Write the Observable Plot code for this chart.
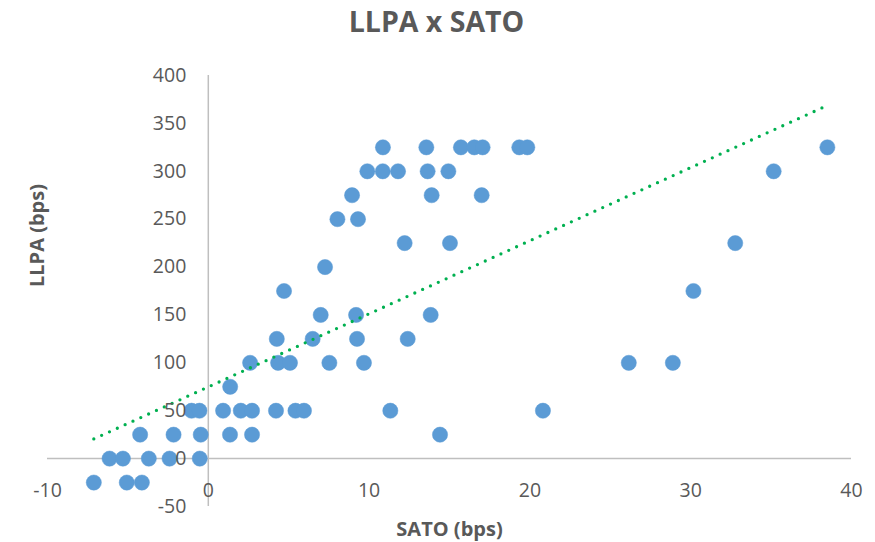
<!DOCTYPE html>
<html>
<head>
<meta charset="utf-8">
<script src="https://cdn.jsdelivr.net/npm/d3@7"></script>
<script src="https://cdn.jsdelivr.net/npm/@observablehq/plot@0.6"></script>
<style>
  html, body { margin: 0; padding: 0; background: #fff; }
  #chart { width: 875px; height: 542px; }
</style>
</head>
<body>
<div id="chart"></div>
<script>
const title = "LLPA x SATO";
const xLabel = "SATO (bps)";
const yLabel = "LLPA (bps)";
const xTicks = [-10, 0, 10, 20, 30, 40];
const yTicks = [-50, 0, 50, 100, 150, 200, 250, 300, 350, 400];

const sato = [
  -7.12, -5.07, -4.13,
  -6.14, -5.31, -3.70, -2.41, -0.53,
  -4.24, -2.16, -0.47, 1.35, 2.72, 14.41,
  -1.04, -0.55, 0.92, 2.02, 2.72, 4.21, 5.42, 5.95, 11.32, 20.81,
  1.36,
  2.60, 4.34, 5.08, 7.53, 9.68, 26.15, 28.89,
  4.26, 6.49, 9.25, 12.40,
  6.99, 9.19, 13.83,
  4.71, 30.17,
  7.26,
  12.21, 15.03, 32.77,
  8.03, 9.31,
  8.94, 13.89, 17.00,
  9.89, 10.85, 11.80, 13.64, 14.93, 35.16,
  10.86, 13.56, 15.71, 16.54, 17.06, 19.34, 19.84, 38.50
];
const llpa = [
  -25, -25, -25,
  0, 0, 0, 0, 0,
  25, 25, 25, 25, 25, 25,
  50, 50, 50, 50, 50, 50, 50, 50, 50, 50,
  75,
  100, 100, 100, 100, 100, 100, 100,
  125, 125, 125, 125,
  150, 150, 150,
  175, 175,
  200,
  225, 225, 225,
  250, 250,
  275, 275, 275,
  300, 300, 300, 300, 300, 300,
  325, 325, 325, 325, 325, 325, 325, 325
];

const points = sato.map((x, i) => ({x, y: llpa[i]}));
const font = "'Open Sans', sans-serif";
const grey = "#595959";
const axisColor = "#BFBFBF";

const chart = Plot.plot({
  width: 875,
  height: 542,
  marginLeft: 47,
  marginRight: 24,
  marginTop: 75,
  marginBottom: 36,
  x: {domain: [-10, 40], axis: null},
  y: {domain: [-50, 400], axis: null},
  style: {fontFamily: font, background: "white"},
  marks: [
    Plot.ruleX([0], {y1: -50, y2: 400, stroke: axisColor, strokeWidth: 1.5}),
    Plot.ruleY([0], {x1: -10, x2: 40, stroke: axisColor, strokeWidth: 1.5}),
    Plot.dot(points, {x: "x", y: "y", r: 7.6, fill: "#5B9BD5", stroke: "#5B9BD5", strokeWidth: 0.5}),
    Plot.linearRegressionY(points, {x: "x", y: "y", ci: 0, stroke: "#00B050", strokeWidth: 3.3, strokeDasharray: "0 8.6", strokeLinecap: "round"}),
    Plot.text(yTicks, {y: d => d, x: () => 0, text: d => String(d), dx: -22, textAnchor: "end", fill: grey, fontSize: 19.5, lineAnchor: "middle"}),
    Plot.text(xTicks, {x: d => d, text: d => String(d), frameAnchor: "bottom", dy: -16, fill: grey, fontSize: 19.5, lineAnchor: "middle"}),
    Plot.text([xLabel], {frameAnchor: "bottom", dy: 23, fill: grey, fontSize: 20, fontWeight: "bold", lineAnchor: "middle"}),
    Plot.text([yLabel], {frameAnchor: "left", dx: -10, dy: -4, rotate: -90, fill: grey, fontSize: 20, fontWeight: "bold", lineAnchor: "middle"}),
    Plot.text([title], {frameAnchor: "top", dx: -13, dy: -53, fill: grey, fontSize: 28.5, fontWeight: "bold", lineAnchor: "middle"})
  ]
});
document.getElementById("chart").appendChild(chart);
</script>
</body>
</html>
